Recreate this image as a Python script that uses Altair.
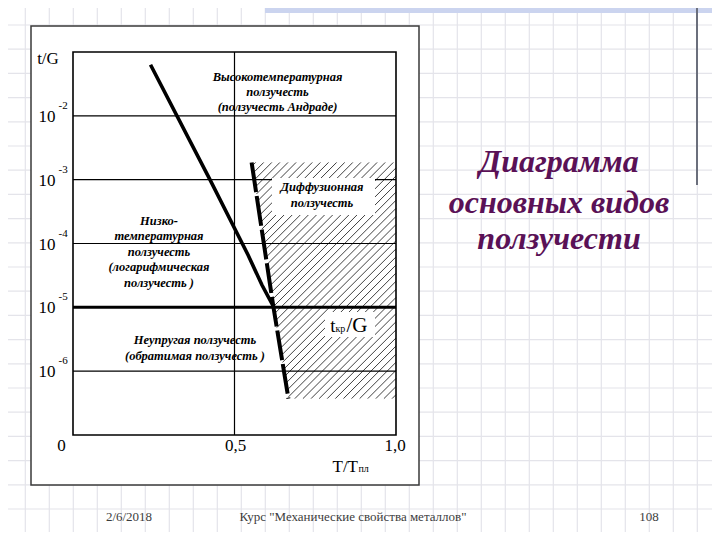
import altair as alt
import pandas as pd

# ---------------- diagram values ----------------
X_TICKS = [0.0, 0.5, 1.0]
X_TICK_LABELS = ["0", "0,5", "1,0"]
Y_EXPONENTS = [-6, -5, -4, -3, -2]          # horizontal grid lines: 10^exp
Y_BOTTOM, Y_TOP = -7, -1                     # bottom labelled "0"
THICK_LEVEL = -5                             # t_кр/G level

LOW_T_X = [0.24, 0.424, 0.542, 0.585, 0.62]  # low/high temperature boundary
LOW_T_Y = [-1.2, -3.0, -4.18, -4.65, -4.98]

DIFF_X = [0.553, 0.62, 0.667]                # diffusion creep boundary (dashed)
DIFF_Y = [-2.73, -4.98, -6.43]

HIGH_LABEL = ["Высокотемпературная", "ползучесть", "(ползучесть Андраде)"]
DIFF_LABEL = ["Диффузионная", "ползучесть"]
LOW_LABEL = ["Низко-", "температурная", "ползучесть", "(логарифмическая", "ползучесть )"]
INEL_LABEL = ["Неупругая ползучесть", "(обратимая ползучесть )"]
SLIDE_TITLE = ["Диаграмма", "основных видов", "ползучести"]
FOOTER = ["2/6/2018", "Курс \"Механические свойства металлов\"", "108"]

# ---------------- layout ----------------
W, H = 323, 383
PX0, PY0 = 73, 52          # plot origin on the page
SVG_W, SVG_H = 704, 524    # whole drawing, fits inside the 8px page margin
FONT = "Liberation Serif"


def xd(px):
    return (px - PX0) / W


def yd(py):
    return Y_TOP - (py - PY0) / H * (Y_TOP - Y_BOTTOM)


XS = alt.Scale(domain=[0, 1], nice=False, zero=False)
YS = alt.Scale(domain=[Y_BOTTOM, Y_TOP], nice=False, zero=False)


def X(f="x"):
    return alt.X(f"{f}:Q", scale=XS, axis=None)


def Y(f="y"):
    return alt.Y(f"{f}:Q", scale=YS, axis=None)


def rules(rows, **kw):
    df = pd.DataFrame(rows, columns=["x", "y", "x2", "y2"])
    return alt.Chart(df).mark_rule(**kw).encode(
        x=X(), y=Y(), x2=alt.X2("x2:Q"), y2=alt.Y2("y2:Q"))


def rects(rows, **kw):
    df = pd.DataFrame(rows, columns=["x", "y", "x2", "y2"])
    return alt.Chart(df).mark_rect(**kw).encode(
        x=X(), y=Y(), x2=alt.X2("x2:Q"), y2=alt.Y2("y2:Q"))


def texts(rows, **kw):
    df = pd.DataFrame(rows, columns=["x", "y", "t"])
    kw.setdefault("font", FONT)
    return alt.Chart(df).mark_text(**kw).encode(x=X(), y=Y(), text="t:N")


def polyline(xs, ys, **kw):
    df = pd.DataFrame({"x": xs, "y": ys, "i": range(len(xs))})
    return alt.Chart(df).mark_line(**kw).encode(x=X(), y=Y(), order="i:Q")


layers = []

# ---- slide background grid ----
grid_v = [(xd(1.3 + 24 * k), yd(8), xd(1.3 + 24 * k), yd(532)) for k in range(1, 30)]
grid_h = [(xd(8), yd(0.8 + 24.2 * k), xd(712), yd(0.8 + 24.2 * k)) for k in range(1, 22)]
layers.append(rules(grid_v + grid_h, color="#e4e4ea", strokeWidth=1.2))

# top band and side line
layers.append(rects([(xd(265), yd(8), xd(712), yd(13))], color="#cbd4ef"))
layers.append(rules([(xd(697), yd(8), xd(697), yd(185))], color="#6b6f7c", strokeWidth=2))

# picture box
layers.append(rects([(xd(31), yd(26), xd(419), yd(485))],
                    fill="white", stroke="#3a3a3a", strokeWidth=1.5))

# ---- hatching of the diffusion creep region ----
poly = [(DIFF_X[0], DIFF_Y[0]), (1.0, DIFF_Y[0]), (1.0, DIFF_Y[-1]),
        (DIFF_X[2], DIFF_Y[2]), (DIFF_X[1], DIFF_Y[1])]
ppx = [(x * W, (Y_TOP - y) / (Y_TOP - Y_BOTTOM) * H) for x, y in poly]
cmin = min(p[0] + p[1] for p in ppx)
cmax = max(p[0] + p[1] for p in ppx)
hatch = []
c = cmin + 4
while c < cmax:
    pts = []
    for i in range(len(ppx)):
        p, q = ppx[i], ppx[(i + 1) % len(ppx)]
        fp, fq = p[0] + p[1] - c, q[0] + q[1] - c
        if (fp <= 0 <= fq) or (fq <= 0 <= fp):
            if fp != fq:
                t = fp / (fp - fq)
                pts.append((p[0] + t * (q[0] - p[0]), p[1] + t * (q[1] - p[1])))
    if len(pts) >= 2:
        a = min(pts)
        b = max(pts)
        hatch.append((a[0] / W, Y_TOP - a[1] / H * 6, b[0] / W, Y_TOP - b[1] / H * 6))
    c += 8.1
layers.append(rules(hatch, color="#2a2a2a", strokeWidth=0.9))

# ---- diagram grid ----
grid_rows = [(0, e, 1, e) for e in Y_EXPONENTS if e != THICK_LEVEL]
grid_rows.append((0.5, Y_BOTTOM, 0.5, Y_TOP))
layers.append(rules(grid_rows, color="black", strokeWidth=1.2))
layers.append(rules([(0, THICK_LEVEL, 1, THICK_LEVEL)], color="black", strokeWidth=3))

# white label backgrounds inside the hatching
layers.append(rects([(xd(272), yd(178), xd(375), yd(215)),
                     (xd(325), yd(312), xd(375), yd(337))], color="white"))

# frame
layers.append(rects([(0, Y_BOTTOM, 1, Y_TOP)], fillOpacity=0,
                    stroke="black", strokeWidth=1.6))

# boundaries
layers.append(polyline(LOW_T_X, LOW_T_Y, color="black", strokeWidth=3.6))
layers.append(polyline(DIFF_X, DIFF_Y, color="black", strokeWidth=4,
                       strokeDash=[30, 4], strokeCap="butt"))

# ---- region labels ----
LBL = dict(fontStyle="italic", fontWeight="bold", fontSize=12.5, color="black",
           align="center", baseline="middle")
layers.append(texts([(xd(277.5), yd(76.7 + 15.3 * i), s) for i, s in enumerate(HIGH_LABEL)], **LBL))
layers.append(texts([(xd(322), yd(186.7 + 16 * i), s) for i, s in enumerate(DIFF_LABEL)], **LBL))
layers.append(texts([(xd(159), yd(220.7 + 15.5 * i), s) for i, s in enumerate(LOW_LABEL)], **LBL))
layers.append(texts([(xd(195), yd(340 + 16 * i), s) for i, s in enumerate(INEL_LABEL)], **LBL))

# t_кр/G
layers.append(texts([(xd(335.5), yd(331.7), "t")], fontSize=19, align="right", baseline="alphabetic"))
layers.append(texts([(xd(335.5), yd(331.7), "кр")], fontSize=10, align="left", baseline="alphabetic"))
layers.append(texts([(xd(346.5), yd(331.7), "/G")], fontSize=21, align="left", baseline="alphabetic"))

# ---- axis labels ----
layers.append(texts([(xd(55.5), e, "10") for e in Y_EXPONENTS],
                    fontSize=17, align="right", baseline="middle", dy=1))
layers.append(texts([(xd(58.5), e, str(e)) for e in Y_EXPONENTS],
                    fontSize=11, align="left", baseline="middle", dy=-10))
layers.append(texts([(xd(48), yd(59), "t/G")], fontSize=17, align="center", baseline="middle"))
xlab_px = [61.5, 235.5, 395]
layers.append(texts([(xd(xlab_px[i]), yd(446), X_TICK_LABELS[i]) for i in range(len(X_TICKS))],
                    fontSize=17, align="center", baseline="middle"))
layers.append(texts([(xd(358), yd(472), "T/T")], fontSize=17, align="right", baseline="alphabetic"))
layers.append(texts([(xd(358.5), yd(472), "пл")], fontSize=10, align="left", baseline="alphabetic"))

# ---- slide title ----
title_base = [172, 213, 249]
layers.append(texts([(xd(559), yd(title_base[i]), s) for i, s in enumerate(SLIDE_TITLE)],
                    fontSize=32, fontStyle="italic", fontWeight="bold", color="#5a1156",
                    align="center", baseline="alphabetic"))

# ---- footer ----
foot_x = [129, 353, 649]
layers.append(texts([(xd(foot_x[i]), yd(517), s) for i, s in enumerate(FOOTER)],
                    fontSize=13, color="#3c3c3c", align="center", baseline="middle"))

chart = alt.layer(*layers).properties(
    width=W, height=H,
    autosize=alt.AutoSizeParams(type="none"),
    padding={"left": PX0 - 8, "top": PY0 - 8, "right": SVG_W - (PX0 - 8) - W,
             "bottom": SVG_H - (PY0 - 8) - H},
    background="white",
).configure_view(strokeWidth=0)

chart.save("out.html", embed_options={"renderer": "svg", "actions": False})
